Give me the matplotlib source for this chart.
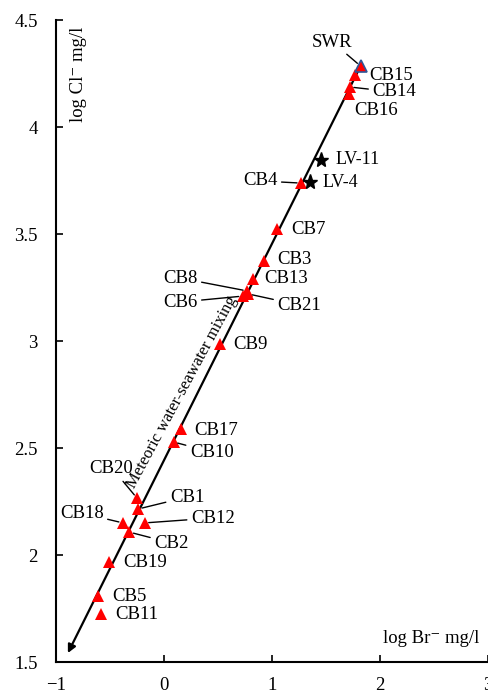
import matplotlib
matplotlib.use('Agg')
import matplotlib.pyplot as plt

plt.rcParams['font.family'] = ['Liberation Serif', 'DejaVu Serif']

# log Br- and log Cl- (mg/l) for the sampled waters
samples = ['CB15', 'CB14', 'CB16', 'CB4', 'CB7', 'CB3', 'CB13', 'CB8', 'CB21', 'CB6',
           'CB9', 'CB17', 'CB10', 'CB20', 'CB1', 'CB18', 'CB12', 'CB2', 'CB19', 'CB5', 'CB11']
log_br = [1.77, 1.72, 1.71, 1.27, 1.05, 0.93, 0.82, 0.77, 0.78, 0.73,
          0.52, 0.16, 0.09, -0.25, -0.24, -0.38, -0.18, -0.32, -0.51, -0.61, -0.58]
log_cl = [4.243, 4.187, 4.154, 3.738, 3.523, 3.374, 3.290, 3.234, 3.220, 3.210,
          2.986, 2.589, 2.528, 2.266, 2.215, 2.150, 2.150, 2.107, 1.967, 1.808, 1.724]

wells = ['LV-11', 'LV-4']
wells_br = [1.45, 1.35]
wells_cl = [3.846, 3.743]

# seawater reference
swr_br = 1.82
swr_cl = 4.285
# end of the mixing line (meteoric end)
met_br = -0.89
met_cl = 1.542

# label placement: (x, y, ha, leader line?)
label_pos = {
    'CB15': (1.90, 4.243, 'left', False),
    'CB14': (1.93, 4.164, 'left', True),
    'CB16': (1.76, 4.079, 'left', False),
    'CB4': (1.05, 3.748, 'right', True),
    'CB7': (1.18, 3.523, 'left', False),
    'CB3': (1.05, 3.379, 'left', False),
    'CB13': (0.93, 3.290, 'left', False),
    'CB8': (0.31, 3.294, 'right', True),
    'CB21': (1.05, 3.168, 'left', True),
    'CB6': (0.31, 3.182, 'right', True),
    'CB9': (0.64, 2.986, 'left', False),
    'CB17': (0.28, 2.584, 'left', False),
    'CB10': (0.24, 2.481, 'left', True),
    'CB20': (-0.49, 2.402, 'center', True),
    'CB1': (0.055, 2.271, 'left', True),
    'CB18': (-0.56, 2.196, 'right', True),
    'CB12': (0.25, 2.173, 'left', True),
    'CB2': (-0.09, 2.056, 'left', True),
    'CB19': (-0.38, 1.967, 'left', False),
    'CB5': (-0.48, 1.808, 'left', False),
    'CB11': (-0.45, 1.724, 'left', False),
}
well_pos = {'LV-11': (1.59, 3.846), 'LV-4': (1.47, 3.743)}

fig = plt.figure(figsize=(4.89, 6.93), dpi=100)
ax = fig.add_axes([0.1145, 0.0447, 0.8835, 0.9264])

# mixing line from seawater towards meteoric water
ax.annotate('', xy=(met_br, met_cl), xytext=(swr_br, swr_cl),
            arrowprops=dict(arrowstyle='-|>', color='black', lw=1.6,
                            mutation_scale=12, shrinkA=0, shrinkB=0))

ax.plot(log_br, log_cl, linestyle='none', marker='^', color='#ff0000',
        markersize=8.5, markeredgewidth=0, zorder=3)
ax.plot(wells_br, wells_cl, linestyle='none', marker='*', color='black',
        markersize=11, zorder=3)
ax.plot([swr_br], [swr_cl], linestyle='none', marker='^', markerfacecolor='#ff0000',
        markeredgecolor='#2f5597', markeredgewidth=1.2, markersize=8.5, zorder=4)

fs = 13.5
for name, x, y in zip(samples, log_br, log_cl):
    tx, ty, ha, has_line = label_pos[name]
    lead = None
    if has_line:
        lead = dict(arrowstyle='-', color='black', lw=1.0, shrinkA=1, shrinkB=3)
        if name == 'CB20':
            lead['relpos'] = (0.7, 0.0)
    ax.annotate(name, xy=(x, y), xytext=(tx, ty), ha=ha, va='center', fontsize=fs,
                arrowprops=lead)

for name, x, y in zip(wells, wells_br, wells_cl):
    tx, ty = well_pos[name]
    ax.text(tx, ty, name, ha='left', va='center', fontsize=fs - 0.5)

ax.annotate('SWR', xy=(swr_br, swr_cl), xytext=(1.56, 4.397), ha='center', va='center',
            fontsize=fs, arrowprops=dict(arrowstyle='-', color='black', lw=1.0,
                                         shrinkA=1, shrinkB=3))

ax.text(0.17, 2.76, 'Meteoric water-seawater mixing', rotation=61.7,
        rotation_mode='anchor', ha='center', va='center', fontsize=12)

ax.text(0.053, 0.989, 'log Cl\u207b mg/l', transform=ax.transAxes, rotation=90,
        ha='center', va='top', fontsize=fs)
ax.text(0.868, 0.037, 'log Br\u207b mg/l', transform=ax.transAxes,
        ha='center', va='center', fontsize=fs)

ax.set_xlim(-1, 3)
ax.set_ylim(1.5, 4.5)
ax.set_xticks([-1, 0, 1, 2, 3])
ax.set_yticks([1.5, 2, 2.5, 3, 3.5, 4, 4.5])
ax.set_yticklabels(['1.5', '2', '2.5', '3', '3.5', '4', '4.5'])
ax.tick_params(axis='both', direction='in', length=5, width=1.2, labelsize=fs)
ax.tick_params(axis='x', pad=11)
ax.tick_params(axis='y', pad=13)
for side in ['top', 'right']:
    ax.spines[side].set_visible(False)
for side in ['left', 'bottom']:
    ax.spines[side].set_linewidth(1.5)

fig.savefig('out.png', dpi=100)
